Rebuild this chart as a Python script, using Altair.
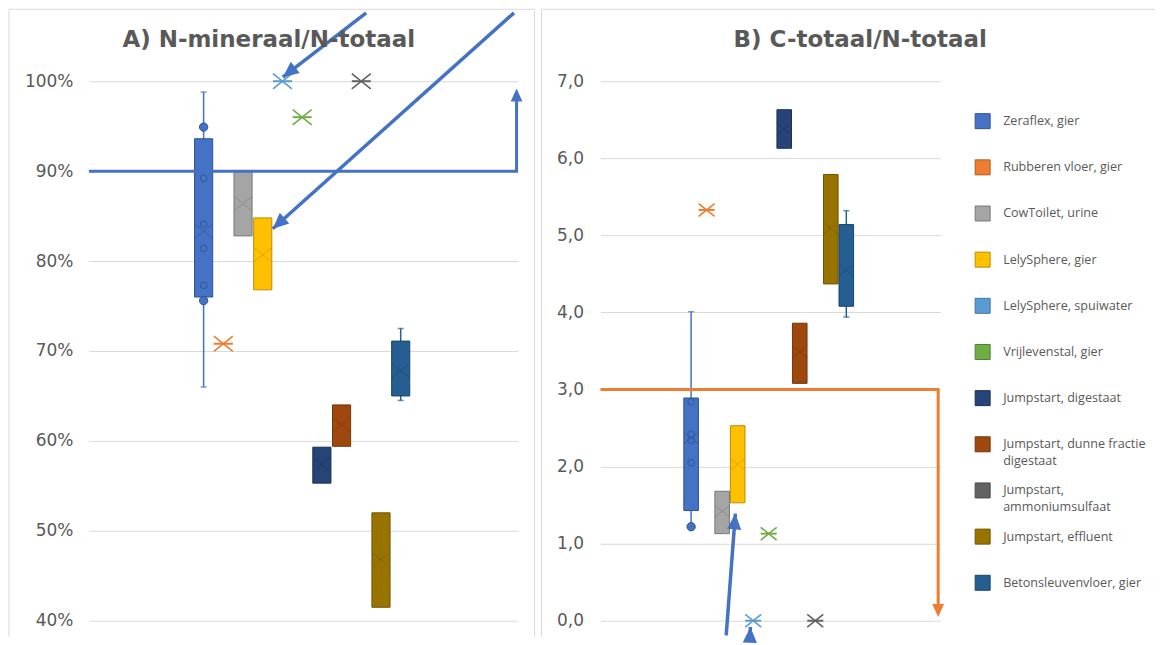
import altair as alt
import pandas as pd

# ---------------- data ----------------
categories = [
    "Zeraflex, gier", "Rubberen vloer, gier", "CowToilet, urine", "LelySphere, gier",
    "LelySphere, spuiwater", "Vrijlevenstal, gier", "Jumpstart, digestaat",
    "Jumpstart, dunne fractie digestaat", "Jumpstart, ammoniumsulfaat",
    "Jumpstart, effluent", "Betonsleuvenvloer, gier",
]
legend_labels = [
    "Zeraflex, gier", "Rubberen vloer, gier", "CowToilet, urine", "LelySphere, gier",
    "LelySphere, spuiwater", "Vrijlevenstal, gier", "Jumpstart, digestaat",
    "Jumpstart, dunne fractie\ndigestaat", "Jumpstart,\nammoniumsulfaat",
    "Jumpstart, effluent", "Betonsleuvenvloer, gier",
]
colors = ["#4472C4", "#ED7D31", "#A5A5A5", "#FFC000", "#5B9BD5", "#70AD47",
          "#264478", "#9E480E", "#636363", "#997300", "#255E91"]
edge_colors = ["#2F528F", "#AE5A21", "#787878", "#BC8C00", "#41719C", "#507E32",
               "#1A2F52", "#73340A", "#484848", "#6F5400", "#1A4469"]

# Panel A: N-mineraal / N-totaal (%)
a_q1 = [76.0, None, 82.8, 76.8, None, None, 55.3, 59.4, None, 41.5, 65.0]
a_q3 = [93.6, None, 90.0, 84.8, None, None, 59.3, 64.0, None, 52.0, 71.1]
a_mean = [83.3, 70.8, 86.4, 80.7, 100.0, 96.0, 57.4, 61.8, 100.0, 46.8, 67.8]
a_whisker_low = [66.0, None, None, None, None, None, None, None, None, None, 64.5]
a_whisker_high = [98.8, None, None, None, None, None, None, None, None, None, 72.5]
a_inner_points = [89.2, 84.1, 81.4, 77.3]
a_outer_points = [94.9, 75.6]
a_ticks = [40, 50, 60, 70, 80, 90, 100]

# Panel B: C-totaal / N-totaal
b_q1 = [1.43, None, 1.13, 1.53, None, None, 6.13, 3.08, None, 4.37, 4.08]
b_q3 = [2.89, None, 1.68, 2.53, None, None, 6.63, 3.86, None, 5.79, 5.14]
b_mean = [2.37, 5.33, 1.42, 2.03, 0.0, 1.13, 6.38, 3.49, 0.0, 5.09, 4.55]
b_whisker_low = [1.22, None, None, None, None, None, None, None, None, None, 3.94]
b_whisker_high = [4.01, None, None, None, None, None, None, None, None, None, 5.32]
b_inner_points = [2.84, 2.42, 2.34, 2.05]
b_outer_points = [1.22]
b_ticks = [0, 1, 2, 3, 4, 5, 6, 7]

# annotations (data units)
a_threshold_x = [-5.82, 15.88, 15.88]
a_threshold_y = [90.0, 90.0, 98.0]
a_threshold_head = [15.88, 99.2, 0]
a_arrow_x1 = [8.25, 15.75]
a_arrow_y1 = [107.6, 107.6]
a_arrow_x2 = [4.02, 3.51]
a_arrow_y2 = [100.45, 83.6]
a_arrow_angle = [231.6, 228.0]

b_threshold_x = [-5.84, 15.92, 15.92]
b_threshold_y = [3.0, 3.0, 0.2]
b_threshold_head = [15.92, 0.05, 180]
b_arrow_x1 = [2.26, 3.80]
b_arrow_y1 = [-0.19, -0.19]
b_arrow_x2 = [2.85, 3.82]
b_arrow_y2 = [1.39, -0.08]
b_arrow_angle = [4.3, 2.0]

# ---------------- style ----------------
FONT = "DejaVu Sans"
GRAY = "#595959"
GRID = "#D9D9D9"
XPATH = "M-1,-0.8L1,0.8M-1,0.8L1,-0.8"
HEAD = "M0,0L0.45,1L-0.45,1Z"
one = pd.DataFrame({"k": [0]})

color_enc = alt.Color("cat:N", scale=alt.Scale(domain=categories, range=colors), legend=None)
fill_enc = alt.Fill("cat:N", scale=alt.Scale(domain=categories, range=colors), legend=None)
edge_enc = alt.Stroke("cat:N", scale=alt.Scale(domain=categories, range=edge_colors), legend=None)


def frame_rule(x1, x2, y1, y2):
    return alt.Chart(one).mark_rule(color=GRID, strokeWidth=1).encode(
        x=alt.value(x1), x2=alt.value(x2), y=alt.value(y1), y2=alt.value(y2))


def panel(q1, q3, mean, wlo, whi, inner, outer, xdom, ydom, yvals, label_expr,
          label_pad, box_half, xsize, ticksize, ann_color, thr_x, thr_y, thr_head,
          ax1, ay1, ax2, ay2, aang, title, title_x, frames, width):
    df = pd.DataFrame({"cat": categories, "idx": list(range(len(categories))),
                       "q1": q1, "q3": q3, "mean": mean, "wlo": wlo, "whi": whi})
    xs = alt.Scale(domain=xdom, nice=False, zero=False)
    ys = alt.Scale(domain=ydom, nice=False, zero=False)
    yaxis = alt.Axis(values=yvals, labelExpr=label_expr, grid=True, gridColor=GRID,
                     gridWidth=1, domain=False, ticks=False, labelFont=FONT,
                     labelFontSize=17, labelColor=GRAY, labelPadding=label_pad, title=None)

    def X(f):
        return alt.X(f, scale=xs, axis=None)

    def Y(f):
        return alt.Y(f, scale=ys, axis=yaxis)

    base = alt.Chart(df)
    whisk = base.transform_filter("isValid(datum.wlo)").mark_rule(strokeWidth=1.5).encode(
        x=X("idx:Q"), y=Y("wlo:Q"), y2="whi:Q", color=color_enc)
    caps = base.transform_filter("isValid(datum.wlo)").transform_fold(
        ["wlo", "whi"], as_=["end", "yv"]).mark_tick(
        orient="horizontal", size=6, thickness=1.5).encode(
        x=X("idx:Q"), y=Y("yv:Q"), color=color_enc)
    boxes = base.transform_filter("isValid(datum.q1)").transform_calculate(
        xl=f"datum.idx - {box_half}", xr=f"datum.idx + {box_half}").mark_rect(
        strokeWidth=1).encode(x=X("xl:Q"), x2="xr:Q", y=Y("q1:Q"), y2="q3:Q",
                              fill=fill_enc, stroke=edge_enc)
    box_mean = base.transform_filter("isValid(datum.q1)").mark_point(
        shape=XPATH, filled=False, size=xsize * 0.85, strokeWidth=1, strokeOpacity=0.75).encode(
        x=X("idx:Q"), y=Y("mean:Q"), stroke=edge_enc)
    single_x = base.transform_filter("!isValid(datum.q1)").mark_point(
        shape=XPATH, filled=False, size=xsize, strokeWidth=1.6, opacity=1).encode(
        x=X("idx:Q"), y=Y("mean:Q"), color=color_enc)
    single_tick = base.transform_filter("!isValid(datum.q1)").mark_tick(
        orient="horizontal", size=ticksize, thickness=2, opacity=1).encode(
        x=X("idx:Q"), y=Y("mean:Q"), color=color_enc)
    inner_df = pd.DataFrame({"idx": [0] * len(inner), "v": inner})
    outer_df = pd.DataFrame({"idx": [0] * len(outer), "v": outer})
    inner_pts = alt.Chart(inner_df).mark_point(
        shape="circle", filled=False, size=45, strokeWidth=1, color="#2F528F", opacity=0.8).encode(
        x=X("idx:Q"), y=Y("v:Q"))
    outer_pts = alt.Chart(outer_df).mark_point(
        shape="circle", filled=True, size=70, color="#4472C4", stroke="#2F528F",
        strokeWidth=1, opacity=1).encode(x=X("idx:Q"), y=Y("v:Q"))

    thr_df = pd.DataFrame({"x": thr_x, "y": thr_y, "o": list(range(len(thr_x)))})
    thr_line = alt.Chart(thr_df).mark_line(color=ann_color, strokeWidth=3, strokeJoin="miter").encode(
        x=X("x:Q"), y=Y("y:Q"), order="o:Q")
    thr_head_df = pd.DataFrame({"x": [thr_head[0]], "y": [thr_head[1]], "a": [thr_head[2]]})
    thr_h = alt.Chart(thr_head_df).mark_point(
        shape=HEAD, filled=True, size=676, color=ann_color, opacity=1).encode(
        x=X("x:Q"), y=Y("y:Q"), angle=alt.Angle("a:Q", scale=None))

    arr_df = pd.DataFrame({"x1": ax1, "y1": ay1, "x2": ax2, "y2": ay2, "a": aang})
    arr_lines = alt.Chart(arr_df).mark_rule(color="#4472C4", strokeWidth=3.5).encode(
        x=X("x1:Q"), y=Y("y1:Q"), x2="x2:Q", y2="y2:Q")
    arr_heads = alt.Chart(arr_df).mark_point(
        shape=HEAD, filled=True, size=1000, color="#4472C4", opacity=1).encode(
        x=X("x2:Q"), y=Y("y2:Q"), angle=alt.Angle("a:Q", scale=None))

    title_layer = alt.Chart(pd.DataFrame({"t": [title]})).mark_text(
        font=FONT, fontSize=23, fontWeight="bold", color=GRAY, align="center",
        baseline="middle").encode(x=alt.value(title_x), y=alt.value(-41), text="t:N")

    layers = [whisk, caps, boxes, box_mean, single_x, single_tick, inner_pts, outer_pts,
              thr_line, thr_h, arr_lines, arr_heads, title_layer] + [frame_rule(*f) for f in frames]
    return alt.layer(*layers).properties(width=width, height=540)


chart_a = panel(a_q1, a_q3, a_mean, a_whisker_low, a_whisker_high, a_inner_points, a_outer_points,
                [-5.82, 15.93], [40, 100], a_ticks, "datum.value + '%'", 16, 0.46, 361, 19,
                "#4472C4", a_threshold_x, a_threshold_y, a_threshold_head,
                a_arrow_x1, a_arrow_y1, a_arrow_x2, a_arrow_y2, a_arrow_angle,
                "A) N-mineraal/N-totaal", 180,
                [(-80, -80, -72, 556), (-80, 446, -72, -72), (446, 446, -72, 556)], 429)

chart_b = panel(b_q1, b_q3, b_mean, b_whisker_low, b_whisker_high, b_inner_points, b_outer_points,
                [-5.84, 16.05], [0, 7], b_ticks, "replace(format(datum.value, '.1f'), '.', ',')",
                17, 0.47, 256, 16,
                "#ED7D31", b_threshold_x, b_threshold_y, b_threshold_head,
                b_arrow_x1, b_arrow_y1, b_arrow_x2, b_arrow_y2, b_arrow_angle,
                "B) C-totaal/N-totaal", 260,
                [(-59, -59, -72, 556), (-59, 555, -72, -72)], 340)

leg_df = pd.DataFrame({"cat": categories, "label": legend_labels})
ly = alt.Y("cat:N", scale=alt.Scale(domain=categories, range=[40, 502], padding=0), axis=None)
leg_sq = alt.Chart(leg_df).mark_square(size=225, strokeWidth=1, opacity=1).encode(
    x=alt.value(7.5), y=ly, fill=fill_enc, stroke=edge_enc)
leg_tx = alt.Chart(leg_df).mark_text(
    align="left", baseline="middle", lineBreak="\n", lineHeight=17, font="Open Sans",
    fontSize=12.6, color=GRAY).encode(x=alt.value(28), y=ly, text="label:N")
legend_panel = alt.layer(leg_sq, leg_tx).properties(width=180, height=540)

chart = alt.hconcat(
    chart_a,
    alt.hconcat(chart_b, legend_panel, spacing=35, bounds="flush"),
    spacing=83, bounds="flush",
).properties(padding=0).configure_view(stroke="transparent")

chart.save("out.html", embed_options={"renderer": "svg", "actions": False})
